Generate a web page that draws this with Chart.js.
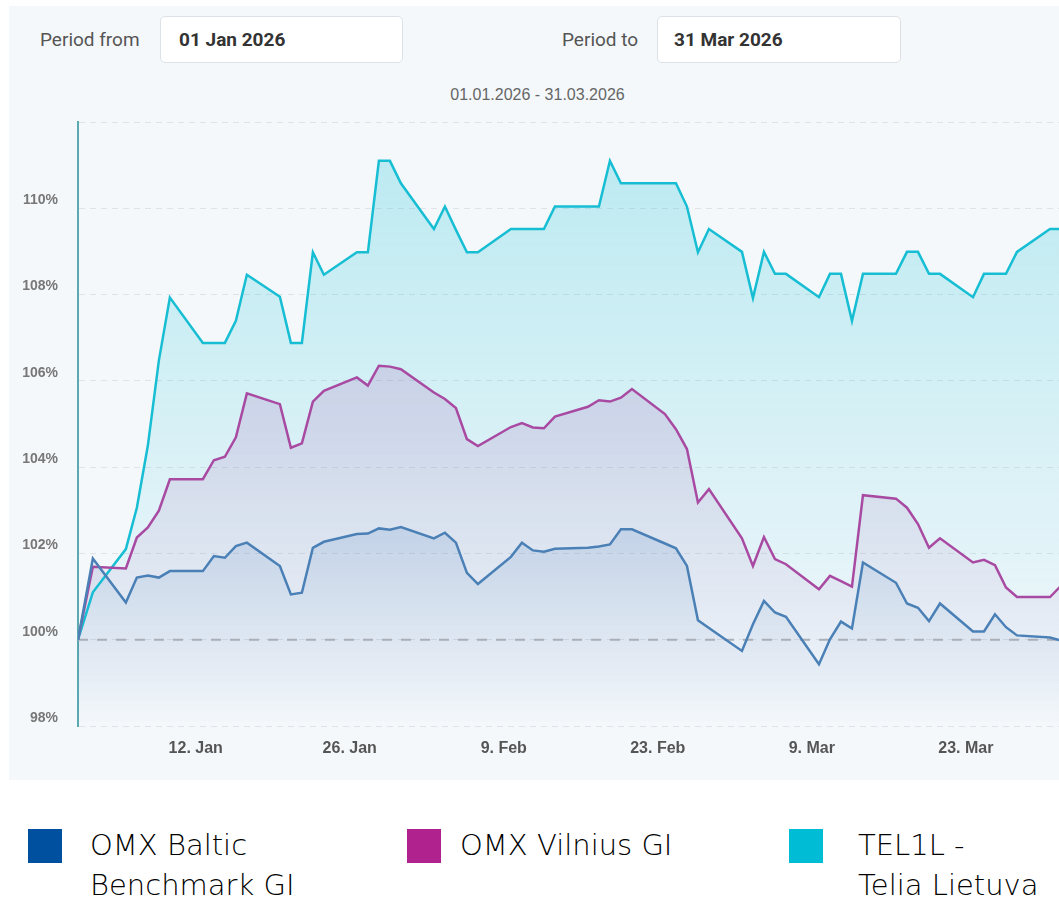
<!DOCTYPE html>
<html>
<head>
<meta charset="utf-8">
<script src="https://cdn.jsdelivr.net/npm/chart.js@4.4.1/dist/chart.umd.min.js"></script>
<style>
  html, body { margin: 0; padding: 0; overflow: hidden; background: #fff; }
  body { width: 1059px; height: 898px; position: relative; font-family: Roboto, Arial, sans-serif; }
  .panel { position: absolute; left: 9px; top: 6px; right: 0; height: 774px; background: #f4f8fb; }
  .lbl { position: absolute; top: 30px; font-size: 19px; line-height: 20px; color: #555; }
  .box { position: absolute; top: 16px; height: 47px; background: #fff; border: 1px solid #dce2e7; border-radius: 5px; box-sizing: border-box; }
  .val { position: absolute; top: 30px; font-size: 19px; line-height: 20px; font-weight: bold; color: #333; }
  .sub { position: absolute; left: 0; width: 1075px; top: 85px; text-align: center; font: 16px "Liberation Sans", Arial, sans-serif; line-height: 20px; color: #666; }
  #wrap { position: absolute; left: 10px; top: 110px; width: 1051px; height: 670px; }
  .legend { position: absolute; top: 825px; font-family: "DejaVu Sans", sans-serif; font-weight: 200; font-size: 29px; line-height: 40px; color: #000; }
  .sw { position: absolute; top: 829px; width: 34px; height: 34px; }
</style>
</head>
<body>
<div class="panel"></div>
<div class="lbl" style="left:40px">Period from</div>
<div class="box" style="left:160px; width:243px"></div>
<div class="val" style="left:179px">01 Jan 2026</div>
<div class="lbl" style="left:562px">Period to</div>
<div class="box" style="left:657px; width:244px"></div>
<div class="val" style="left:674px">31 Mar 2026</div>
<div class="sub">01.01.2026 - 31.03.2026</div>

<div id="wrap"><canvas id="perf"></canvas></div>

<div class="sw" style="left:28px; background:#0050a0"></div>
<div class="legend" style="left:90px">OMX Baltic<br>Benchmark GI</div>
<div class="sw" style="left:407px; background:#b0238f"></div>
<div class="legend" style="left:460px">OMX Vilnius GI</div>
<div class="sw" style="left:789px; background:#00bcd4"></div>
<div class="legend" style="left:858px">TEL1L -<br>Telia Lietuva</div>

<script>
// trading days, counted from 1 Jan 2026 = 0
var DAYS = [1, 4, 5, 6, 7, 8, 11, 12, 13, 14, 15, 18, 19, 20, 21, 22, 25, 26, 27, 28, 29,
            32, 33, 34, 35, 36, 39, 40, 41, 42, 43, 46, 47, 48, 49, 50, 53, 54, 55, 56, 57,
            60, 61, 62, 63, 64, 67, 68, 69, 70, 71, 74, 75, 76, 77, 78, 81, 82, 83, 84, 85, 88, 89];
var START = 0.3;   // period start, base = 100%
var CLOSE = 0.65;  // points are stamped at market close

var BALTIC = [101.88, 100.86, 101.44, 101.49, 101.44, 101.59, 101.59, 101.94, 101.90, 102.17, 102.25,
              101.71, 101.05, 101.09, 102.13, 102.27, 102.45, 102.46, 102.58, 102.55, 102.61,
              102.35, 102.48, 102.25, 101.55, 101.29, 101.92, 102.25, 102.07, 102.04, 102.11,
              102.13, 102.16, 102.21, 102.56, 102.56, 102.23, 102.12, 101.71, 100.45, 100.27,
              99.74, 100.36, 100.90, 100.63, 100.53, 99.43, 100.01, 100.42, 100.26, 101.79,
              101.32, 100.84, 100.74, 100.43, 100.84, 100.19, 100.19, 100.59, 100.29, 100.10, 100.05, 99.98];

var VILNIUS = [101.69, 101.65, 102.37, 102.60, 102.99, 103.72, 103.72, 104.16, 104.24, 104.69, 105.71,
               105.46, 104.45, 104.55, 105.52, 105.77, 106.08, 105.89, 106.35, 106.33, 106.27,
               105.73, 105.58, 105.37, 104.65, 104.49, 104.93, 105.02, 104.92, 104.90, 105.17,
               105.40, 105.55, 105.52, 105.61, 105.81, 105.23, 104.88, 104.42, 103.18, 103.49,
               102.35, 101.71, 102.38, 101.87, 101.75, 101.17, 101.48, 101.36, 101.23, 103.35,
               103.27, 103.06, 102.68, 102.13, 102.35, 101.79, 101.85, 101.73, 101.21, 100.99, 100.99, 101.25];

var TELIA = [101.10, 102.10, 103.06, 104.50, 106.47, 107.93, 106.88, 106.88, 106.88, 107.39, 108.46,
             107.95, 106.88, 106.88, 108.98, 108.46, 108.98, 108.98, 111.10, 111.10, 110.58,
             109.52, 110.04, 109.50, 108.98, 108.98, 109.52, 109.52, 109.52, 109.52, 110.04,
             110.04, 110.04, 111.10, 110.58, 110.58, 110.58, 110.58, 110.04, 108.98, 109.52,
             108.99, 107.92, 108.99, 108.48, 108.48, 107.94, 108.48, 108.48, 107.39, 108.48,
             108.48, 108.99, 108.99, 108.48, 108.48, 107.94, 108.48, 108.48, 108.48, 108.99, 109.52, 109.52];

var TICK_DAYS = [11, 25, 39, 53, 67, 81];
var TICK_LABELS = ['12. Jan', '26. Jan', '9. Feb', '23. Feb', '9. Mar', '23. Mar'];
var BASE_LEVEL = 100;

function toPoints(values) {
    var pts = [{ x: START, y: BASE_LEVEL }];
    for (var i = 0; i < values.length; i++) {
        pts.push({ x: DAYS[i] + CLOSE, y: values[i] });
    }
    return pts;
}

function fade(rgb, alpha) {
    return function(context) {
        var area = context.chart.chartArea;
        if (!area) return 'rgba(' + rgb + ',0)';
        var g = context.chart.ctx.createLinearGradient(0, area.top, 0, area.bottom);
        g.addColorStop(0, 'rgba(' + rgb + ',' + alpha + ')');
        g.addColorStop(1, 'rgba(' + rgb + ',0)');
        return g;
    };
}

// dashed 100% line, over the fills but under the lines
var baseLine = {
    id: 'baseLine',
    beforeDatasetsDraw: function(chart) {
        var ctx = chart.ctx;
        var y = chart.scales.y.getPixelForValue(BASE_LEVEL);
        ctx.save();
        ctx.strokeStyle = '#a9aeb7';
        ctx.lineWidth = 2;
        ctx.setLineDash([10, 9]);
        ctx.beginPath();
        ctx.moveTo(chart.chartArea.left, y);
        ctx.lineTo(chart.chartArea.right, y);
        ctx.stroke();
        ctx.restore();
    }
};

new Chart(document.getElementById('perf'), {
    type: 'line',
    data: {
        datasets: [
            {
                label: 'OMX Baltic Benchmark GI',
                data: toPoints(BALTIC),
                borderColor: '#4a80b6',
                backgroundColor: fade('0,80,160', 0.32),
                borderWidth: 2.5,
                fill: 'start'
            },
            {
                label: 'OMX Vilnius GI',
                data: toPoints(VILNIUS),
                borderColor: '#a84aa2',
                backgroundColor: fade('150,45,150', 0.26),
                borderWidth: 2.5,
                fill: 'start'
            },
            {
                label: 'TEL1L - Telia Lietuva',
                data: toPoints(TELIA),
                borderColor: '#17bed3',
                backgroundColor: fade('0,188,212', 0.24),
                borderWidth: 2.5,
                fill: 'start'
            }
        ]
    },
    options: {
        responsive: true,
        maintainAspectRatio: false,
        animation: false,
        layout: { padding: { top: 12, left: 0, right: 0, bottom: 0 } },
        elements: { point: { radius: 0, hoverRadius: 0 }, line: { tension: 0 } },
        plugins: {
            legend: { display: false },
            tooltip: { enabled: false },
            filler: { drawTime: 'beforeDatasetsDraw' }
        },
        scales: {
            x: {
                type: 'linear',
                bounds: 'data',
                min: START,
                max: DAYS[DAYS.length - 1] + CLOSE,
                grid: { display: false },
                border: { display: false },
                afterBuildTicks: function(scale) {
                    scale.ticks = TICK_DAYS.map(function(d) { return { value: d }; });
                },
                afterFit: function(scale) {
                    scale.height = 54;
                    scale.paddingLeft = 0;
                    scale.paddingRight = 0;
                },
                ticks: {
                    padding: 5,
                    maxRotation: 0,
                    autoSkip: false,
                    color: '#555',
                    font: { family: '"Liberation Sans", Arial, sans-serif', size: 16, weight: 'bold' },
                    callback: function(value, index) { return TICK_LABELS[index]; }
                }
            },
            y: {
                min: 98,
                max: 112,
                grid: { color: '#dfe3e8', lineWidth: 1, drawTicks: false },
                border: { display: true, color: '#5ba9b1', width: 2, dash: [6, 5] },
                afterFit: function(scale) {
                    scale.width = 68;
                    scale.paddingTop = 0;
                    scale.paddingBottom = 0;
                },
                ticks: {
                    stepSize: 2,
                    padding: 20,
                    labelOffset: -8,
                    color: '#777',
                    font: { family: '"Liberation Sans", Arial, sans-serif', size: 14, weight: 'bold' },
                    callback: function(value) { return value === 112 ? '' : value + '%'; }
                }
            }
        }
    },
    plugins: [baseLine]
});
</script>
</body>
</html>
